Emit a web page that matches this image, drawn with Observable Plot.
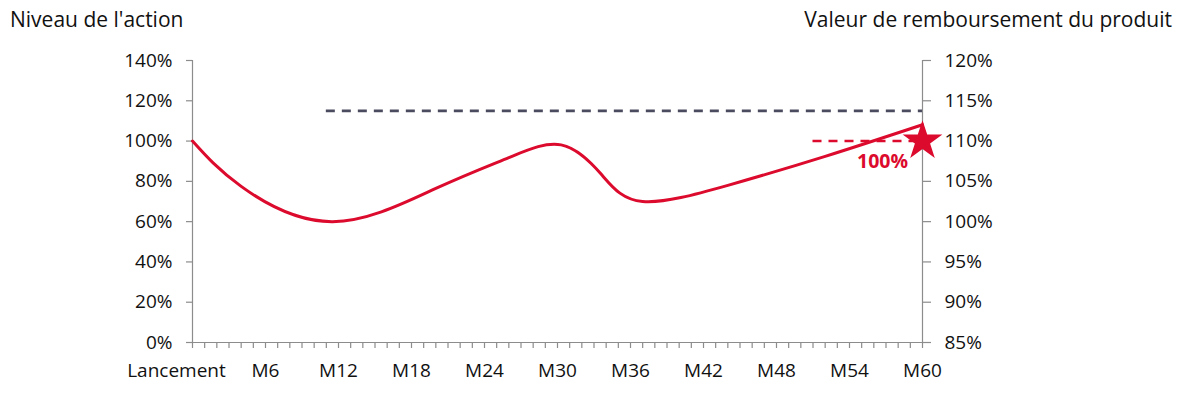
<!DOCTYPE html>
<html>
<head>
<meta charset="utf-8">
<script src="https://cdn.jsdelivr.net/npm/d3@7"></script>
<script src="https://cdn.jsdelivr.net/npm/@observablehq/plot@0.6"></script>
<style>
  html, body { margin: 0; padding: 0; background: #fff; }
  #wrap { position: relative; width: 1191px; height: 397px; font-family: "Open Sans", sans-serif; color: #111; }
  .title { position: absolute; top: 5px; font-size: 21px; white-space: nowrap; z-index: 2; }
  #tl { left: 10px; }
  #tr { right: 19px; }
  svg { position: absolute; left: 0; top: 0; }
</style>
</head>
<body>
<div id="wrap">
  <div class="title" id="tl">Niveau de l'action</div>
  <div class="title" id="tr">Valeur de remboursement du produit</div>
</div>
<script>
// Stock level path (left axis, %)
const months = [0, 4, 11.5, 20, 26, 30.3, 33.6, 37, 44, 52, 60];
const level  = [100, 77.5, 60, 76.5, 91.8, 98.1, 83.5, 70, 78, 92.4, 108.1];

// Barrier (grey dashed) and redemption level (red dashed)
const barrierLevel = 115, barrierStart = 11, barrierEnd = 60;
const redeemLevel = 100, redeemStart = 51, redeemEnd = 60;
const redeemLabel = "100%";

// Axes
const xLabelMonths = [0, 6, 12, 18, 24, 30, 36, 42, 48, 54, 60];
const xLabels = ["Lancement", "M6", "M12", "M18", "M24", "M30", "M36", "M42", "M48", "M54", "M60"];
const xMinorMonths = d3.range(0, 61);
const leftTicks = [0, 20, 40, 60, 80, 100, 120, 140];
const rightTicks = [85, 90, 95, 100, 105, 110, 115, 120];
const rightMin = 85, rightMax = 120, leftMax = 140;
const toLeft = v => (v - rightMin) / (rightMax - rightMin) * leftMax;

const path = months.map((m, i) => ({m, v: level[i]}));
const red = "#dc0a2d", grey = "#8c8c8c", navy = "#4b4b60";
const labelData = xLabelMonths.map((m, i) => ({m, t: xLabels[i]}));

const chart = Plot.plot({
  width: 1191,
  height: 397,
  marginTop: 60,
  marginBottom: 55,
  marginLeft: 192,
  marginRight: 269,
  style: {fontFamily: "Open Sans, sans-serif", fontSize: "19px", color: "#111", background: "transparent", overflow: "visible"},
  x: {domain: [0, 60], label: null},
  y: {domain: [0, 140], label: null},
  marks: [
    Plot.ruleY([0], {stroke: grey, strokeWidth: 1.2}),
    Plot.ruleX([0, 60], {y1: 0, y2: 140, stroke: grey, strokeWidth: 1.2}),
    Plot.axisX({ticks: xMinorMonths, tickSize: 6, tickFormat: () => "", stroke: grey, strokeWidth: 1.2, label: null}),
    Plot.text(labelData.slice(0, 1), {x: "m", text: "t", frameAnchor: "bottom", dy: 34, dx: -16, fontSize: 19, fill: "#111"}),
    Plot.text(labelData.slice(1), {x: "m", text: "t", frameAnchor: "bottom", dy: 34, fontSize: 19, fill: "#111"}),
    Plot.axisY({anchor: "left", ticks: leftTicks, tickSize: 6, tickPadding: 14, tickFormat: d => d + "%", stroke: grey, strokeWidth: 1.2, fontSize: 19, fill: "#111", label: null}),
    Plot.axisY({anchor: "right", ticks: rightTicks.map(toLeft), tickSize: 8, tickPadding: 14, tickFormat: (d, i) => rightTicks[i] + "%", stroke: grey, strokeWidth: 1.2, fontSize: 19, fill: "#111", label: null}),
    Plot.ruleY([barrierLevel], {x1: barrierStart, x2: barrierEnd, stroke: navy, strokeWidth: 2.8, strokeDasharray: "9,7"}),
    Plot.ruleY([redeemLevel], {x1: redeemStart, x2: redeemEnd, stroke: red, strokeWidth: 2.5, strokeDasharray: "9,7"}),
    Plot.line(path, {x: "m", y: "v", stroke: red, strokeWidth: 3, curve: "natural"}),
    Plot.dot([{m: redeemEnd, v: redeemLevel}], {x: "m", y: "v", symbol: "star", r: 12.5, fill: red, stroke: "none"}),
    Plot.text([{m: redeemEnd, v: redeemLevel, t: redeemLabel}], {x: "m", y: "v", text: "t", dx: -40, dy: 21, fill: red, fontWeight: "bold", fontSize: 19.5})
  ]
});
document.getElementById("wrap").appendChild(chart);
</script>
</body>
</html>
